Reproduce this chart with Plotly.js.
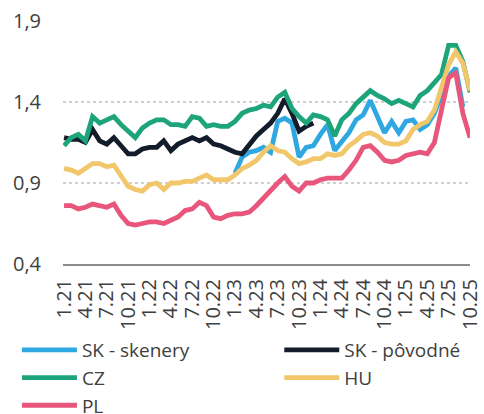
<!DOCTYPE html>
<html>
<head>
<meta charset="utf-8">
<script src="https://cdn.plot.ly/plotly-3.0.1.min.js"></script>
<style>html,body{margin:0;padding:0;background:#fff;}#chart{width:484px;height:414px;}</style>
</head>
<body>
<div id="chart"></div>
<script>
const months = ["1.21","2.21","3.21","4.21","5.21","6.21","7.21","8.21","9.21","10.21","11.21","12.21",
"1.22","2.22","3.22","4.22","5.22","6.22","7.22","8.22","9.22","10.22","11.22","12.22",
"1.23","2.23","3.23","4.23","5.23","6.23","7.23","8.23","9.23","10.23","11.23","12.23",
"1.24","2.24","3.24","4.24","5.24","6.24","7.24","8.24","9.24","10.24","11.24","12.24",
"1.25","2.25","3.25","4.25","5.25","6.25","7.25","8.25","9.25","10.25"];

const tickLabels = ["1.21","4.21","7.21","10.21","1.22","4.22","7.22","10.22","1.23","4.23","7.23","10.23","1.24","4.24","7.24","10.24","1.25","4.25","7.25","10.25"];

const skSkenery = [null,null,null,null,null,null,null,null,null,null,null,null,
null,null,null,null,null,null,null,null,null,null,null,null,
0.96,1.06,1.09,1.10,1.12,1.09,1.28,1.30,1.27,1.06,1.12,1.13,
1.20,1.26,1.10,1.15,1.21,1.29,1.32,1.41,1.31,1.21,1.28,1.21,
1.28,1.29,1.23,1.26,1.33,1.45,1.56,1.61,1.37,null];

const skPovodne = [1.18,1.17,1.17,1.15,1.23,1.16,1.14,1.18,1.13,1.08,1.08,1.11,
1.12,1.12,1.16,1.10,1.14,1.16,1.18,1.16,1.18,1.14,1.13,1.11,
1.09,1.08,1.14,1.19,1.23,1.27,1.33,1.42,1.33,1.22,1.25,1.27,
null,null,null,null,null,null,null,null,null,null,null,null,
null,null,null,null,null,null,null,null,null,null];

const cz = [1.13,1.18,1.20,1.16,1.31,1.27,1.29,1.31,1.26,1.22,1.18,1.24,
1.27,1.29,1.29,1.26,1.26,1.25,1.31,1.30,1.25,1.26,1.25,1.25,
1.28,1.33,1.35,1.36,1.38,1.37,1.43,1.46,1.36,1.31,1.27,1.32,
1.31,1.29,1.19,1.29,1.33,1.39,1.43,1.47,1.44,1.42,1.39,1.41,
1.39,1.37,1.44,1.47,1.52,1.57,1.75,1.75,1.65,1.46];

const hu = [0.99,0.98,0.96,0.99,1.02,1.02,1.00,1.01,0.94,0.88,0.86,0.85,
0.89,0.90,0.86,0.90,0.90,0.91,0.91,0.93,0.95,0.92,0.92,0.92,
0.95,0.99,1.01,1.04,1.09,1.13,1.10,1.09,1.05,1.02,1.03,1.05,
1.05,1.08,1.07,1.08,1.13,1.16,1.20,1.21,1.19,1.15,1.14,1.14,
1.16,1.23,1.26,1.28,1.35,1.50,1.63,1.71,1.64,1.47];

const pl = [0.76,0.76,0.74,0.75,0.77,0.76,0.75,0.77,0.70,0.65,0.64,0.65,
0.66,0.66,0.65,0.67,0.69,0.73,0.74,0.78,0.76,0.69,0.68,0.70,
0.71,0.71,0.72,0.76,0.81,0.86,0.90,0.94,0.88,0.85,0.90,0.90,
0.92,0.93,0.93,0.93,0.98,1.04,1.12,1.13,1.09,1.04,1.03,1.04,
1.07,1.08,1.09,1.08,1.15,1.35,1.55,1.58,1.33,1.18];

const seriesNames = ["SK - skenery","SK - pôvodné","CZ","HU","PL"];
const seriesData = [skSkenery, skPovodne, cz, hu, pl];
const seriesColors = ["#2FA8E1","#131C2B","#1DA47A","#F2C76B","#E8567B"];
const seriesLegend = ["legend","legend2","legend","legend2","legend"];

const traces = seriesData.map((d, k) => ({
  x: months, y: d, name: seriesNames[k], type: "scatter", mode: "lines",
  line: {color: seriesColors[k], width: 4.8}, connectgaps: false, hoverinfo: "skip",
  legend: seriesLegend[k]
}));

const FONT = "Open Sans, sans-serif";
const legendBase = {
  orientation: "v", xref: "container", yref: "container",
  xanchor: "left", y: 0.2005, yanchor: "top",
  font: {family: FONT, size: 19, color: "#404040"},
  itemwidth: 55, tracegroupgap: 0, bgcolor: "rgba(0,0,0,0)", borderwidth: 0
};
const layout = {
  width: 484, height: 414,
  margin: {l: 63, r: 14, t: 21, b: 150, autoexpand: false},
  paper_bgcolor: "#fff", plot_bgcolor: "#fff",
  separators: ", ",
  showlegend: true,
  font: {family: FONT, size: 20, color: "#404040"},
  xaxis: {
    type: "category", range: [-0.15, 57], tickmode: "array",
    tickvals: tickLabels, ticktext: tickLabels, tickangle: -90,
    showgrid: false, showline: true, linecolor: "#8c8c8c", linewidth: 2,
    ticks: "", ticklabelstandoff: 5, tickfont: {family: FONT, size: 20, color: "#404040"},
    fixedrange: true, automargin: false
  },
  yaxis: {
    range: [0.4, 1.9], tickvals: [0.4, 0.9, 1.4, 1.9], tickformat: ".1f",
    showgrid: true, gridcolor: "#cfcfcf", gridwidth: 1.5, griddash: "dot",
    zeroline: false, showline: false, ticks: "", ticklabelstandoff: 21,
    tickfont: {family: FONT, size: 20, color: "#404040"}, fixedrange: true, automargin: false
  },
  legend: Object.assign({}, legendBase, {x: 0.035}),
  legend2: Object.assign({}, legendBase, {x: 0.577})
};

Plotly.newPlot("chart", traces, layout, {displayModeBar: false, staticPlot: true});
</script>
</body>
</html>
